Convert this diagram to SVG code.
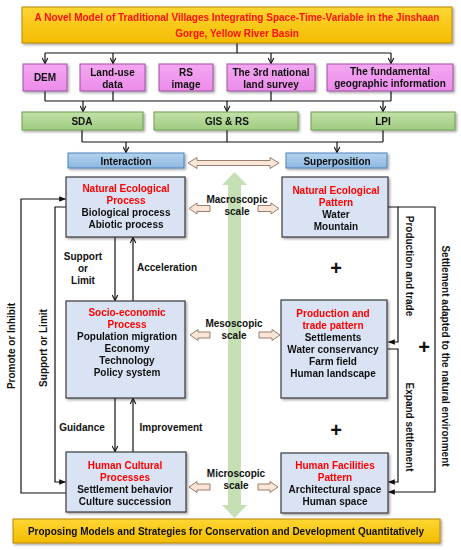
<svg xmlns="http://www.w3.org/2000/svg" width="461" height="550" viewBox="0 0 461 550">
<style>
text{font-family:"Liberation Sans",Arial,sans-serif;font-weight:bold;font-size:10px;fill:#111;text-anchor:middle}
.red{fill:#FF0000}
.ttl{fill:#FF1010}
.ln{fill:none;stroke:#111;stroke-width:1.2}
.title{fill:url(#gy);stroke:#B8860B;stroke-width:1}
.pink{fill:url(#gp);stroke:#A050A0;stroke-width:1}
.green{fill:url(#gg);stroke:#6E9E4E;stroke-width:1}
.blue{fill:url(#gb);stroke:#4F81BD;stroke-width:1}
.proc{fill:#DAE3F3;stroke:#3A3A3A;stroke-width:1.2}
.beige{fill:#FBE5D6;stroke:#8C7060;stroke-width:0.9}
.plus{font-size:20px}
</style>
<defs>
<linearGradient id="gy" x1="0" y1="0" x2="0" y2="1"><stop offset="0" stop-color="#FFD633"/><stop offset="1" stop-color="#F2BC00"/></linearGradient>
<linearGradient id="gp" x1="0" y1="0" x2="0" y2="1"><stop offset="0" stop-color="#F4A6F2"/><stop offset="1" stop-color="#EC8CEA"/></linearGradient>
<linearGradient id="gg" x1="0" y1="0" x2="0" y2="1"><stop offset="0" stop-color="#C2E0A8"/><stop offset="1" stop-color="#A0CC80"/></linearGradient>
<linearGradient id="gb" x1="0" y1="0" x2="0" y2="1"><stop offset="0" stop-color="#B4D3EE"/><stop offset="1" stop-color="#8DB8E0"/></linearGradient>
<filter id="sh" x="-10%" y="-10%" width="130%" height="140%"><feDropShadow dx="1.5" dy="1.5" stdDeviation="0.8" flood-color="#000" flood-opacity="0.35"/></filter>
<marker id="av" viewBox="0 0 10 10" refX="9" refY="5" markerWidth="7" markerHeight="7" markerUnits="userSpaceOnUse" orient="auto"><path d="M1,1 L9,5 L1,9" fill="none" stroke="#111" stroke-width="1.6"/></marker>
<marker id="af" viewBox="0 0 10 10" refX="9" refY="5" markerWidth="7" markerHeight="7" markerUnits="userSpaceOnUse" orient="auto"><path d="M0,1 L10,5 L0,9 Z" fill="#111"/></marker>
</defs>

<!-- big green double arrow -->
<polygon points="234.5,172 247,185 241,185 241,505 247,505 234.5,518 222,505 228,505 228,185 222,185" fill="#C5E0B4"/>

<g id="connectors">
<path class="ln" d="M237,43 V53 M45,53 H391"/>
<path class="ln" d="M45,53 V63.5" marker-end="url(#av)"/>
<path class="ln" d="M113,53 V63.5" marker-end="url(#av)"/>
<path class="ln" d="M271,53 V63.5" marker-end="url(#av)"/>
<path class="ln" d="M391,53 V63.5" marker-end="url(#av)"/>
<path class="ln" d="M45,91 V101 M113,91 V101 M271,91 V101 M391,91 V101 M45,101 H391"/>
<path class="ln" d="M83,101 V111.5" marker-end="url(#av)"/>
<path class="ln" d="M227,101 V111.5" marker-end="url(#av)"/>
<path class="ln" d="M383,101 V111.5" marker-end="url(#av)"/>
<path class="ln" d="M82,130 V142 M227,130 V142 M383,130 V142 M82,142 H383"/>
<path class="ln" d="M126,142 V152.5" marker-end="url(#av)"/>
<path class="ln" d="M337,142 V152.5" marker-end="url(#av)"/>
<path class="ln" d="M115,237 V300.5" marker-end="url(#av)"/>
<path class="ln" d="M133,301 V237.5" marker-end="url(#av)"/>
<path class="ln" d="M115,398 V451.5" marker-end="url(#av)"/>
<path class="ln" d="M133,452 V398.5" marker-end="url(#av)"/>
<path class="ln" d="M66,493 H21 V199 H65.5" marker-end="url(#af)"/>
<path class="ln" d="M66,207 H55 V482 H65.5" marker-end="url(#af)"/>
<path class="ln" d="M388,207 H398 V342 H388.5" marker-end="url(#af)"/>
<path class="ln" d="M398,207 H435 V492 H388.5" marker-end="url(#af)"/>
<path class="ln" d="M388,349 H398 V482 H388.5" marker-end="url(#af)"/>
<!-- beige arrows -->
<polygon class="beige" points="188,163 197,157.5 197,160.5 270,160.5 270,157.5 279,163 270,168.5 270,165.5 197,165.5 197,168.5"/>
<polygon class="beige" points="189,208.5 197,203 197,205.5 210,205.5 210,211.5 197,211.5 197,214"/>
<polygon class="beige" points="279,208.5 271,203 271,205.5 258,205.5 258,211.5 271,211.5 271,214"/>
<polygon class="beige" points="190,335 198,329.5 198,332 210,332 210,338 198,338 198,340.5"/>
<polygon class="beige" points="280,335 272,329.5 272,332 259,332 259,338 272,338 272,340.5"/>
<polygon class="beige" points="189,487 197,481.5 197,484 210,484 210,490 197,490 197,492.5"/>
<polygon class="beige" points="278,487 270,481.5 270,484 258,484 258,490 270,490 270,492.5"/>
</g>

<g id="labels">
<text x="83" y="260">Support</text>
<text x="83" y="272">or</text>
<text x="83" y="284">Limit</text>
<text x="167" y="271">Acceleration</text>
<text x="82" y="431">Guidance</text>
<text x="171" y="431">Improvement</text>
<text x="237" y="203">Macroscopic</text>
<text x="237" y="215">scale</text>
<text x="234" y="327">Mesoscopic</text>
<text x="234" y="339">scale</text>
<text x="236" y="477">Microscopic</text>
<text x="236" y="489">scale</text>
<text transform="translate(15,346) rotate(-90)">Promote or Inhibit</text>
<text transform="translate(47,348) rotate(-90)">Support or Limit</text>
<text transform="translate(406,266) rotate(90)">Production and trade</text>
<text transform="translate(442,356) rotate(90)">Settlement adapted to the natural environment</text>
<text transform="translate(406,427) rotate(90)">Expand settlement</text>
<text class="plus" x="336" y="275">+</text>
<text class="plus" x="424" y="354">+</text>
<text class="plus" x="336" y="437">+</text>
</g>

<g id="title" filter="url(#sh)">
<rect class="title" x="22" y="7" width="430" height="36"/>
<text class="ttl" x="237" y="20.5">A Novel Model of Traditional Villages Integrating Space-Time-Variable in the Jinshaan</text>
<text class="ttl" x="237" y="36.5">Gorge, Yellow River Basin</text>
</g>

<g id="dem" filter="url(#sh)"><rect class="pink" x="23" y="64" width="44" height="27"/><text x="45" y="81">DEM</text></g>
<g id="landuse" filter="url(#sh)"><rect class="pink" x="80" y="64" width="65" height="27"/><text x="112.5" y="75.5">Land-use</text><text x="112.5" y="87.5">data</text></g>
<g id="rsimage" filter="url(#sh)"><rect class="pink" x="159" y="64" width="54" height="27"/><text x="186" y="75.5">RS</text><text x="186" y="87.5">image</text></g>
<g id="survey" filter="url(#sh)"><rect class="pink" x="227" y="64" width="88" height="27"/><text x="271" y="75.5">The 3rd national</text><text x="271" y="87.5">land survey</text></g>
<g id="fundamental" filter="url(#sh)"><rect class="pink" x="327" y="64" width="126" height="27"/><text x="390" y="74.5">The fundamental</text><text x="390" y="86.5">geographic information</text></g>

<g id="sda" filter="url(#sh)"><rect class="green" x="22" y="112" width="121" height="18"/><text x="82" y="125">SDA</text></g>
<g id="gisrs" filter="url(#sh)"><rect class="green" x="154" y="112" width="144" height="18"/><text x="227" y="125">GIS &amp; RS</text></g>
<g id="lpi" filter="url(#sh)"><rect class="green" x="311" y="112" width="144" height="18"/><text x="383" y="125">LPI</text></g>

<g id="interaction" filter="url(#sh)"><rect class="blue" x="68" y="153" width="116" height="15"/><text x="126" y="164.5">Interaction</text></g>
<g id="superposition" filter="url(#sh)"><rect class="blue" x="286" y="153" width="101" height="15"/><text x="337" y="164.5">Superposition</text></g>

<g id="nep" filter="url(#sh)"><rect class="proc" x="66" y="177" width="119" height="60"/>
<text class="red" x="126" y="192">Natural Ecological</text><text class="red" x="126" y="204">Process</text>
<text x="126" y="216">Biological process</text><text x="126" y="228">Abiotic process</text></g>

<g id="sep" filter="url(#sh)"><rect class="proc" x="66" y="301" width="119" height="97"/>
<text class="red" x="127" y="316">Socio-economic</text><text class="red" x="127" y="328">Process</text>
<text x="127" y="340">Population migration</text><text x="127" y="352">Economy</text>
<text x="127" y="364">Technology</text><text x="127" y="376">Policy system</text></g>

<g id="hcp" filter="url(#sh)"><rect class="proc" x="66" y="452" width="120" height="60"/>
<text class="red" x="125" y="469">Human Cultural</text><text class="red" x="125" y="481">Processes</text>
<text x="125" y="493">Settlement behavior</text><text x="125" y="505">Culture succession</text></g>

<g id="nepat" filter="url(#sh)"><rect class="proc" x="282" y="177" width="106" height="60"/>
<text class="red" x="336" y="194">Natural Ecological</text><text class="red" x="336" y="206">Pattern</text>
<text x="336" y="218">Water</text><text x="336" y="230">Mountain</text></g>

<g id="ptp" filter="url(#sh)"><rect class="proc" x="281" y="300" width="106" height="98"/>
<text class="red" x="333" y="317">Production and</text><text class="red" x="333" y="329">trade pattern</text>
<text x="333" y="341">Settlements</text><text x="333" y="353">Water conservancy</text>
<text x="333" y="365">Farm field</text><text x="333" y="377">Human landscape</text></g>

<g id="hfp" filter="url(#sh)"><rect class="proc" x="281" y="453" width="107" height="60"/>
<text class="red" x="335" y="469">Human Facilities</text><text class="red" x="335" y="481">Pattern</text>
<text x="335" y="493">Architectural space</text><text x="335" y="505">Human space</text></g>

<g id="bottom" filter="url(#sh)">
<rect class="title" x="13" y="519" width="427" height="24"/>
<text x="226" y="534.5">Proposing Models and Strategies for Conservation and Development Quantitatively</text>
</g>
</svg>
